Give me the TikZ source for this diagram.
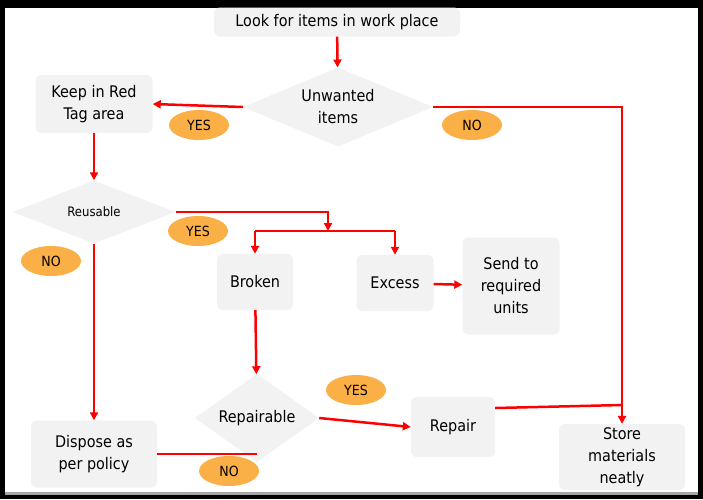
\documentclass[tikz,border=0pt]{standalone}
\usepackage{fontspec}
\setmainfont{DejaVu Sans Condensed}
\usetikzlibrary{shapes.geometric,arrows.meta}
\definecolor{boxgray}{RGB}{242,242,242}
\definecolor{tagorange}{RGB}{250,176,70}
\tikzset{
  proc/.style={rounded corners=6pt, fill=boxgray, align=center, font=\fontsize{16}{22}\selectfont},
  test/.style={diamond, fill=boxgray, aspect=2.3, inner sep=0pt, align=center, font=\fontsize{16}{22}\selectfont},
  tag/.style={ellipse, fill=tagorange, minimum width=60pt, minimum height=30pt, inner sep=0pt, font=\fontsize{14}{16}\selectfont},
  flow/.style={draw=red, line width=2.5pt},
  arr/.style={flow, -{Triangle[length=8pt,width=8pt]}}
}
\begin{document}
\begin{tikzpicture}[x=1pt,y=-1pt]
\fill[black] (0,0) rectangle (703,499);
\fill[white] (5,8) rectangle (698,492);
\fill[gray!70] (5,492) rectangle (698,495);
\useasboundingbox (0,0) rectangle (703,499);
% steps
\node[proc, minimum width=246pt, minimum height=29pt] (look) at (337,22) {Look for items in work place};
\node[proc, minimum width=117pt, minimum height=58pt] (keep) at (94,104) {Keep in Red\\Tag area};
\node[proc, minimum width=76pt, minimum height=56pt] (broken) at (255,282) {Broken};
\node[proc, minimum width=77pt, minimum height=56pt] (excess) at (395,283) {Excess};
\node[proc, minimum width=97pt, minimum height=97pt] (send) at (511,286) {Send to\\required\\units};
\node[proc, minimum width=84pt, minimum height=60pt] (repair) at (453,427) {Repair};
\node[proc, minimum width=126pt, minimum height=67pt] (dispose) at (94,454) {Dispose as\\per policy};
\node[proc, minimum width=126pt, minimum height=65pt] (store) at (622,457) {Store\\materials\\neatly};
% tests
\node[test, minimum width=190pt, minimum height=79pt] (unwanted) at (338,107) {Unwanted\\items};
\node[test, minimum width=163pt, minimum height=63pt, font=\fontsize{13}{16}\selectfont] (reuse) at (94,212) {Reusable};
\node[test, minimum width=124pt, minimum height=88pt] (repairable) at (257,418) {Repairable};
% tags
\node[tag] (yesA) at (199,125) {YES};
\node[tag] (noA) at (472,125) {NO};
\node[tag] (yesB) at (198,231) {YES};
\node[tag] (noB) at (51,261) {NO};
\node[tag] (yesC) at (356,390) {YES};
\node[tag] (noC) at (229,471) {NO};
% junctions
\coordinate (split) at (328,231);
\coordinate (merge) at (622,405);
% connectors
\draw[arr] (look) -- (unwanted);
\draw[arr] (unwanted.west) -- (keep.east);
\draw[arr] (unwanted.east) -| (store.north);
\draw[arr] (keep) -- (reuse);
\draw[arr] (reuse.east) -| (split);
\draw[flow] (broken.north |- split) -- (excess.north |- split);
\draw[arr] (broken.north |- split) -- (broken.north);
\draw[arr] (excess.north |- split) -- (excess.north);
\draw[arr] (reuse.south) -- (dispose.north);
\draw[arr] (excess) -- (send);
\draw[arr] (broken) -- (repairable);
\draw[arr] (repairable.east) -- (repair.west);
\draw[flow] (repair.east |- 0,408) -- (merge);
\draw[flow] (dispose.east) -- (repairable.south |- dispose.east);
\end{tikzpicture}
\end{document}
